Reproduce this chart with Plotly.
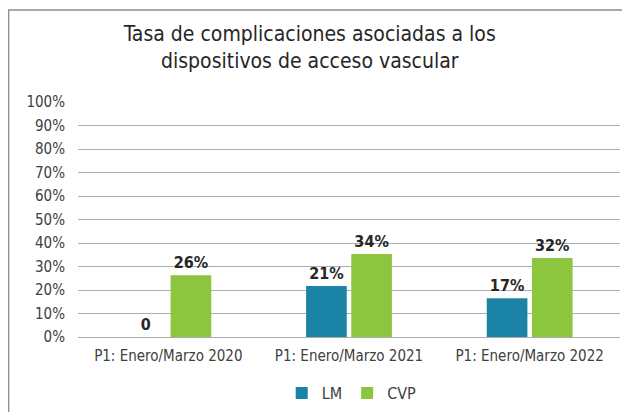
import plotly.graph_objects as go

categories = ["P1: Enero/Marzo 2020", "P1: Enero/Marzo 2021", "P1: Enero/Marzo 2022"]
lm_values = [0.0, 0.217, 0.165]
cvp_values = [0.263, 0.353, 0.336]
lm_labels = ["0", "21%", "17%"]
cvp_labels = ["26%", "34%", "32%"]
y_ticks = [i / 10 for i in range(11)]
y_tick_labels = [f"{i * 10}%" for i in range(11)]

FONT = "DejaVu Sans Condensed, sans-serif"

ML, MT, PW, PH = 70, 94, 542, 235

fig = go.Figure()
fig.add_trace(go.Bar(
    name="LM", x=categories, y=lm_values, text=lm_labels,
    textposition="outside", cliponaxis=False,
    marker=dict(color="#1B83A6", line=dict(width=0)),
    textfont=dict(family=FONT, size=16, color="#262626", weight="bold"),
))
fig.add_trace(go.Bar(
    name="CVP", x=categories, y=cvp_values, text=cvp_labels,
    textposition="outside", cliponaxis=False,
    marker=dict(color="#8CC63F", line=dict(width=0)),
    textfont=dict(family=FONT, size=16, color="#262626", weight="bold"),
))

fig.update_layout(
    width=630, height=412,
    margin=dict(l=ML, r=630 - ML - PW, t=MT, b=412 - MT - PH, autoexpand=False),
    paper_bgcolor="white", plot_bgcolor="white",
    font=dict(family=FONT, color="#404040", size=15),
    uniformtext=dict(minsize=14, mode="show"),
    title=dict(
        text="Tasa de complicaciones asociadas a los<br>dispositivos de acceso vascular",
        x=0.479, xref="container", xanchor="center",
        y=0.921, yref="container", yanchor="top",
        font=dict(family=FONT, size=21, color="#262626"),
    ),
    barmode="group", bargap=0.5, bargroupgap=0.1,
    showlegend=True,
    legend=dict(orientation="h", x=0.505, xanchor="center", xref="paper",
                y=-0.166, yanchor="top", yref="paper",
                font=dict(size=16, color="#404040"),
                traceorder="normal"),
    xaxis=dict(showline=False, ticks="", tickangle=0, ticklabelstandoff=8,
               tickfont=dict(size=15, color="#404040")),
    yaxis=dict(range=[0, 1.0], tickvals=y_ticks, ticktext=y_tick_labels,
               showgrid=True, gridcolor="#adadad", gridwidth=1.3,
               zeroline=True, zerolinecolor="#adadad", zerolinewidth=1.3,
               ticks="", ticklabelstandoff=12, tickfont=dict(size=15, color="#404040")),
    shapes=[dict(type="rect", xref="paper", yref="paper",
                 x0=(0.7 - ML) / PW, x1=(650 - ML) / PW,
                 y0=(MT + PH - 430) / PH, y1=(MT + PH - 2) / PH,
                 line=dict(color="#8c8c8c", width=1.3), fillcolor="rgba(0,0,0,0)")],
)

fig.write_html("out.html")
